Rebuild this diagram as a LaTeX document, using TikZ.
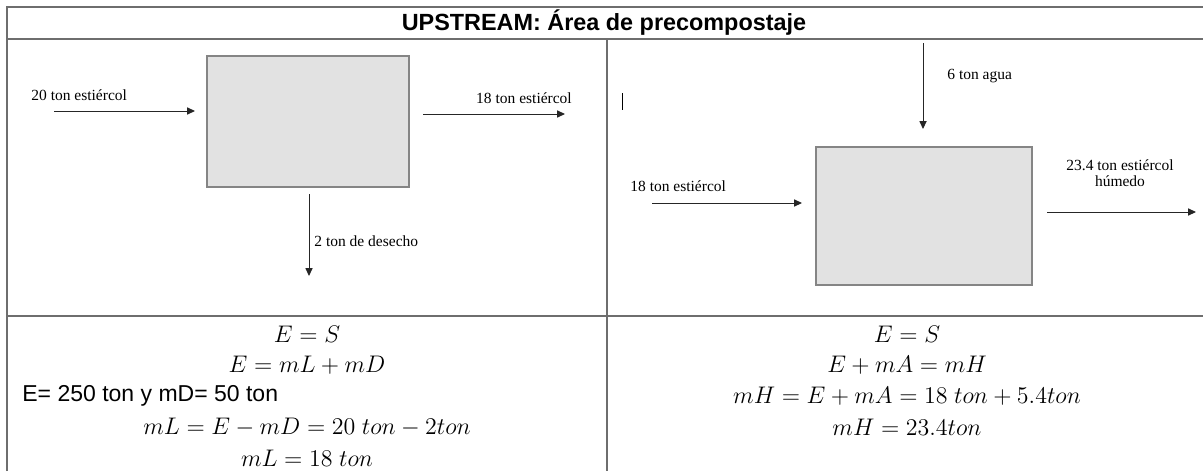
\documentclass[tikz,border=0pt]{standalone}
\usepackage[no-math]{fontspec}
\setmainfont{Liberation Serif}
\newfontfamily\headfont{Liberation Sans}
\usetikzlibrary{arrows.meta}

\definecolor{rulegray}{HTML}{6E6E6E}
\definecolor{boxgray}{HTML}{E2E2E2}
\definecolor{boxline}{HTML}{858585}

\tikzset{
  procbox/.style={draw=boxline, fill=boxgray, line width=0.7pt, inner sep=0pt},
  flowlbl/.style={inner sep=0pt, font=\fontsize{7.75}{8}\selectfont},
  flow/.style={-{Triangle[length=4pt,width=3.6pt]}, line width=0.5pt, draw=black!85},
  eqn/.style={inner sep=0pt, font=\fontsize{13}{15}\selectfont},
  tblrule/.style={draw=rulegray, line width=1pt},
}

\begin{document}
\begin{tikzpicture}[x=0.5pt, y=-0.5pt]
\useasboundingbox (0,0) rectangle (1203,471);

% table
\draw[tblrule] (7,471) -- (7,7) -- (1203,7);
\draw[tblrule, line width=0.6pt] (7,39) -- (1203,39);
\draw[tblrule] (607,39) -- (607,471);
\draw[tblrule, line width=0.7pt] (7,316) -- (1203,316);
\node[inner sep=0pt, font=\headfont\bfseries\fontsize{11.7}{14}\selectfont] (title) at (604,23)
      {UPSTREAM: Área de precompostaje};

% left: precompostaje
\node[procbox, minimum width=101pt, minimum height=65.5pt] (mixA) at (308,121.5) {};
\coordinate (inA0) at (54,111);
\coordinate (inA1) at (195,111);
\draw[flow] (inA0) -- (inA1);
\node[flowlbl, anchor=west] (lblInA) at (31,95) {20 ton estiércol};
\coordinate (outA0) at (423,114);
\coordinate (outA1) at (565,114);
\draw[flow] (outA0) -- (outA1);
\node[flowlbl] (lblOutA) at (524,98) {18 ton estiércol};
\coordinate (wasteA0) at (309,194);
\coordinate (wasteA1) at (309,276);
\draw[flow] (wasteA0) -- (wasteA1);
\node[flowlbl, anchor=west] (lblWasteA) at (314,241) {2 ton de desecho};

% right: humectacion
\draw[line width=0.5pt] (622,93) -- (622,110);
\node[procbox, minimum width=108pt, minimum height=69pt] (mixB) at (924,216) {};
\coordinate (waterB0) at (923,43);
\coordinate (waterB1) at (923,129);
\draw[flow] (waterB0) -- (waterB1);
\node[flowlbl, anchor=west] (lblWaterB) at (947,76) {6 ton agua};
\coordinate (inB0) at (652,203);
\coordinate (inB1) at (802,203);
\draw[flow] (inB0) -- (inB1);
\node[flowlbl, anchor=west] (lblInB) at (630,186) {18 ton estiércol};
\coordinate (outB0) at (1047,212);
\coordinate (outB1) at (1196,212);
\draw[flow] (outB0) -- (outB1);
\node[flowlbl, align=center] (lblOutB) at (1120,173) {23.4 ton estiércol\\húmedo};

% balances
\node[eqn] (eqA1) at (307,334) {$E = S$};
\node[eqn] (eqA2) at (307,365) {$E = mL + mD$};
\node[inner sep=0pt, anchor=west, font=\headfont\fontsize{11.5}{14}\selectfont] (dataA) at (22,396)
      {E= 250 ton y mD= 50 ton};
\node[eqn] (eqA3) at (307,427) {$mL = E - mD = 20\ ton - 2ton$};
\node[eqn] (eqA4) at (307,458) {$mL = 18\ ton$};

\node[eqn] (eqB1) at (907,334) {$E = S$};
\node[eqn] (eqB2) at (907,365) {$E + mA = mH$};
\node[eqn] (eqB3) at (907,396) {$mH = E + mA = 18\ ton + 5.4ton$};
\node[eqn] (eqB4) at (907,427) {$mH = 23.4ton$};
\end{tikzpicture}
\end{document}
